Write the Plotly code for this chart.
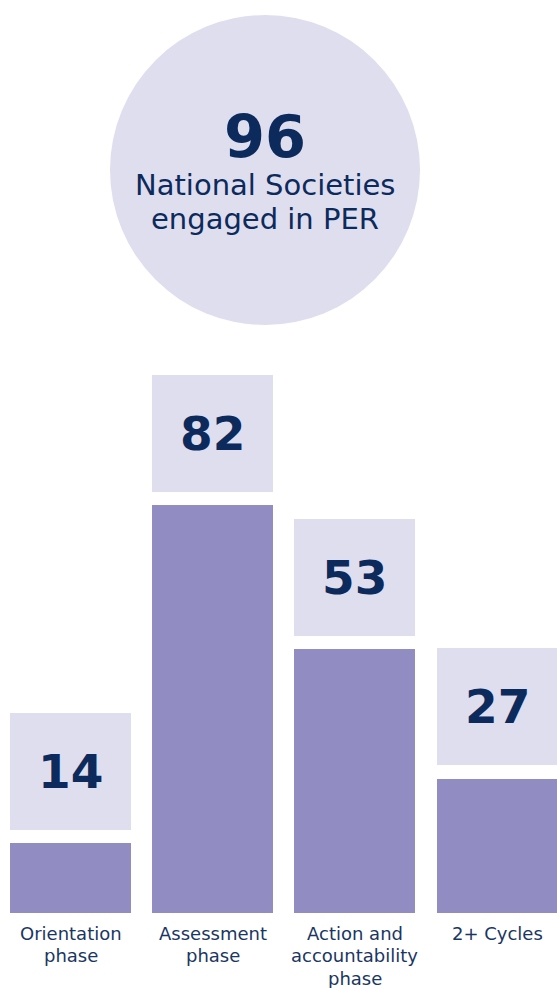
import plotly.graph_objects as go

categories = ["Orientation phase", "Assessment phase", "Action and accountability phase", "2+ Cycles"]
tick_lines = [["Orientation", "phase"], ["Assessment", "phase"], ["Action and", "accountability", "phase"], ["2+ Cycles"]]
values = [14, 82, 53, 27]
total_value = 96
total_line1 = "National Societies"
total_line2 = "engaged in PER"

BAR_COLOR = "#918DC3"
BOX_COLOR = "#DFDEEF"
NAVY = "#0C2A5B"
LABEL_COLOR = "#1A3663"
FONT = "DejaVu Sans"

W, H = 557, 988
MB = 75
PLOT_H = H - MB
px_per_unit = 4.975
YMAX = PLOT_H / px_per_unit
box_gap = 13.3 / px_per_unit
box_h = 117 / px_per_unit

fig = go.Figure()
fig.add_trace(go.Bar(
    x=categories, y=values, marker=dict(color=BAR_COLOR, line=dict(width=0)),
    width=0.851, hoverinfo="skip", showlegend=False))
fig.add_trace(go.Bar(
    x=categories, y=[box_h] * len(values), base=[v + box_gap for v in values],
    marker=dict(color=BOX_COLOR, line=dict(width=0)),
    width=0.851, hoverinfo="skip", showlegend=False))

for c, v in zip(categories, values):
    fig.add_annotation(x=c, y=v + box_gap + box_h / 2, text=f"<b>{v}</b>",
                       showarrow=False, xanchor="center", yanchor="middle",
                       font=dict(family=FONT, size=47, color=NAVY))

def py(p):
    return (PLOT_H - p) / PLOT_H

# category labels below the bars
for c, lines in zip(categories, tick_lines):
    for i, line in enumerate(lines):
        fig.add_annotation(x=c, xref="x", yref="paper", y=py(933 + 22.5 * i), text=line,
                           showarrow=False, xanchor="center", yanchor="middle",
                           font=dict(family=FONT, size=18, color=LABEL_COLOR))

# circle
cx, cy, r = 265, 170, 155
fig.add_shape(type="circle", xref="paper", yref="paper",
              x0=(cx - r) / W, x1=(cx + r) / W, y0=py(cy + r), y1=py(cy - r),
              fillcolor=BOX_COLOR, line=dict(width=0), layer="below")
fig.add_annotation(xref="paper", yref="paper", x=cx / W, y=py(136), text=f"<b>{total_value}</b>",
                   showarrow=False, xanchor="center", yanchor="middle",
                   font=dict(family=FONT, size=59, color=NAVY))
fig.add_annotation(xref="paper", yref="paper", x=cx / W, y=py(185), text=total_line1,
                   showarrow=False, xanchor="center", yanchor="middle",
                   font=dict(family=FONT, size=29, color=NAVY))
fig.add_annotation(xref="paper", yref="paper", x=cx / W, y=py(219), text=total_line2,
                   showarrow=False, xanchor="center", yanchor="middle",
                   font=dict(family=FONT, size=29, color=NAVY))

fig.update_layout(
    width=W, height=H,
    margin=dict(l=0, r=0, t=0, b=MB),
    plot_bgcolor="white", paper_bgcolor="white",
    barmode="overlay", bargap=0,
    xaxis=dict(range=[-0.496, 3.422], showticklabels=False,
               showgrid=False, zeroline=False, showline=False, ticks=""),
    yaxis=dict(range=[0, YMAX], visible=False, showgrid=False, zeroline=False),
)

fig.write_html("out.html", config={"displayModeBar": False},
               post_script="document.body.style.margin='0px';document.body.style.overflow='hidden';")
